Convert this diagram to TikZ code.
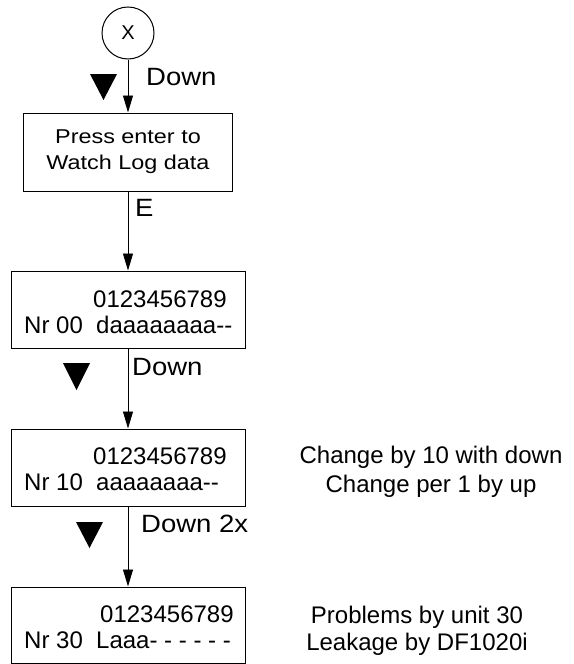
\documentclass[tikz,border=0pt]{standalone}
\usepackage{fontspec}
\setmainfont{Liberation Sans}
\newfontfamily\lblfont{Liberation Sans}[FakeStretch=1.1]
\newfontfamily\introfont{Liberation Sans}[FakeStretch=1.17]
\usetikzlibrary{arrows.meta}
\tikzset{
  stepbox/.style={draw, line width=1pt, rectangle, inner sep=0pt},
  flow/.style={draw, line width=0.9pt, -{Triangle[length=17pt,width=10pt]}},
  keylbl/.style={anchor=base west, inner sep=0pt, font=\lblfont\fontsize{25}{25}\selectfont},
  disp/.style={anchor=base west, inner sep=0pt, font=\fontsize{24}{24}\selectfont},
  note/.style={anchor=base, inner sep=0pt, font=\fontsize{24}{24}\selectfont},
  keymark/.style={fill=black}
}
\begin{document}
\begin{tikzpicture}[x=1pt, y=-1pt]
  \useasboundingbox (0,0) rectangle (573,664);

  % entry connector
  \node[draw, circle, line width=1pt, minimum size=52pt, inner sep=0pt,
        font=\fontsize{20}{20}\selectfont] (x) at (128,33) {X};

  % screens
  \node[stepbox, minimum width=209pt, minimum height=78pt, align=center,
        font=\introfont\fontsize{20}{26}\selectfont] (b1) at (128,152)
        {Press enter to\\Watch Log data};
  \node[stepbox, minimum width=234pt, minimum height=77pt] (b2) at (128,309.5) {};
  \node[stepbox, minimum width=234pt, minimum height=77pt] (b3) at (128,467.5) {};
  \node[stepbox, minimum width=234pt, minimum height=76pt] (b4) at (128,625) {};

  % display contents
  \node[disp] (b2top) at (93,307) {0123456789};
  \node[disp] (b2bot) at (24,333) {Nr 00\ \ daaaaaaaa-{}-};
  \node[disp] (b3top) at (93,464) {0123456789};
  \node[disp] (b3bot) at (24,490) {Nr 10\ \ aaaaaaaa-{}-};
  \node[disp] (b4top) at (100,622) {0123456789};
  \node[disp] (b4bot) at (24,648) {Nr 30\ \ Laaa- - - - - -};

  % transitions
  \draw[flow] (x.south) -- (b1.north);
  \draw[flow] (b1.south) -- (b2.north);
  \draw[flow] (b2.south) -- (b3.north);
  \draw[flow] (b3.south) -- (b4.north);

  % key labels
  \node[keylbl] (k1) at (146,85) {Down};
  \node[keylbl] (k2) at (135,216) {E};
  \node[keylbl] (k3) at (132,375) {Down};
  \node[keylbl] (k4) at (141,532) {Down 2x};

  % down-key markers
  \fill[keymark] (90,74) -- (117,74) -- (103.5,100) -- cycle;
  \fill[keymark] (63,363) -- (90,363) -- (76.5,390) -- cycle;
  \fill[keymark] (76,522) -- (103,522) -- (89.5,548) -- cycle;

  % remarks
  \node[note] (n1a) at (431,463) {Change by 10 with down};
  \node[note] (n1b) at (431,492) {Change per 1 by up};
  \node[note] (n2a) at (417,623) {Problems by unit 30};
  \node[note] (n2b) at (417,650) {Leakage by DF1020i};
\end{tikzpicture}
\end{document}
